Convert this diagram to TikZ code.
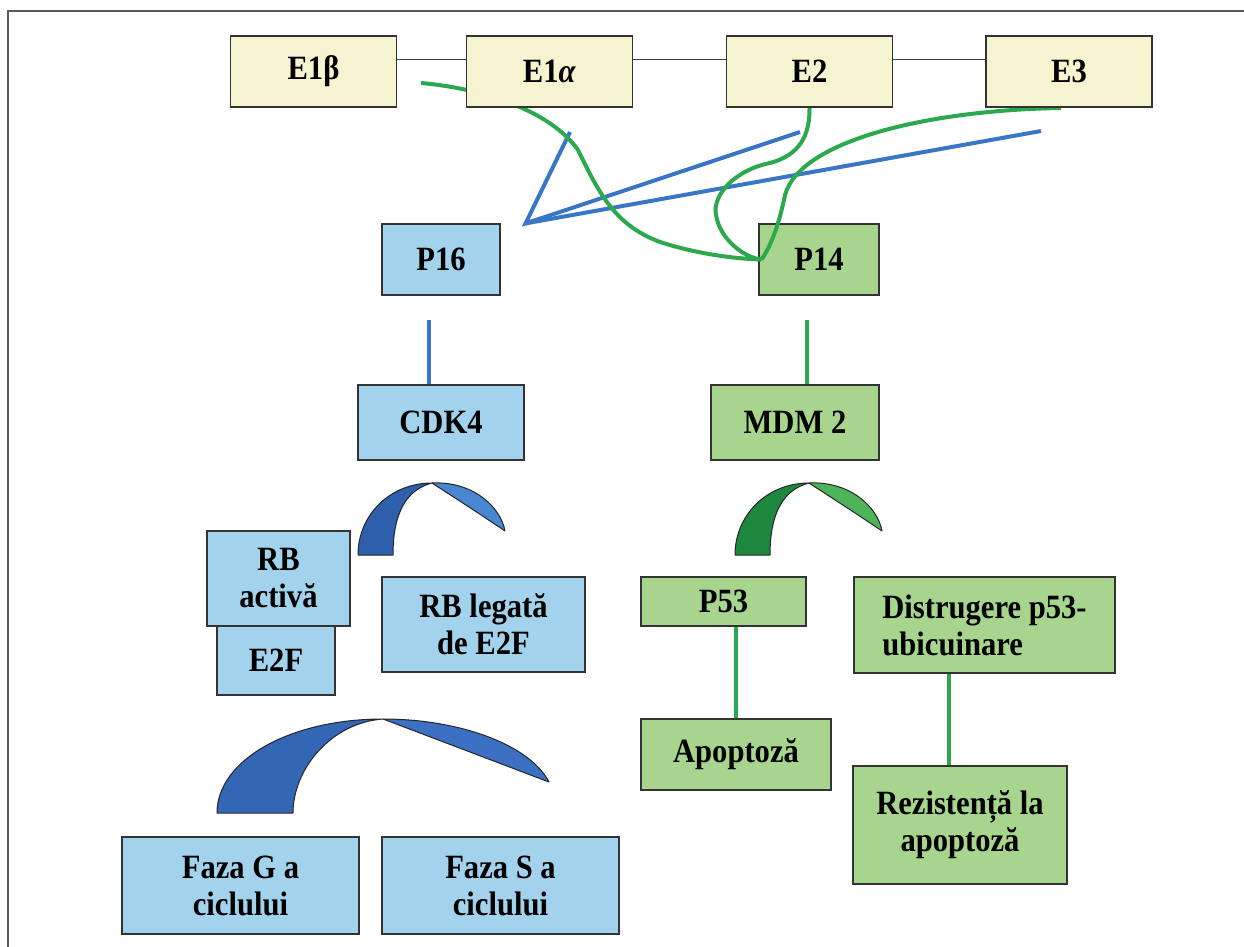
\documentclass[tikz,border=0pt]{standalone}
\usepackage{fontspec}
\setmainfont{Liberation Serif}[FakeStretch=0.9]
\usetikzlibrary{calc}
\pgfdeclarelayer{fg}
\pgfsetlayers{main,fg}

\definecolor{genefill}{RGB}{246,243,208}
\definecolor{bluefill}{RGB}{163,210,236}
\definecolor{greenfill}{RGB}{168,213,142}
\definecolor{framegray}{RGB}{90,90,90}
\definecolor{linkblue}{RGB}{58,118,200}
\definecolor{linkgreen}{RGB}{44,168,78}
\definecolor{arcbluedark}{RGB}{45,95,172}
\definecolor{arcbluelight}{RGB}{72,135,210}
\definecolor{arcgreendark}{RGB}{30,135,62}
\definecolor{arcgreenlight}{RGB}{78,180,90}
\definecolor{bigarcleft}{RGB}{52,102,182}
\definecolor{bigarcright}{RGB}{60,112,194}

\tikzset{
  box/.style={draw=black!80, line width=1.2pt, font=\bfseries\fontsize{34}{37}\selectfont, align=center, inner sep=2pt},
  genebox/.style={box, fill=genefill, minimum width=166pt, minimum height=71pt},
  bluebox/.style={box, fill=bluefill},
  greenbox/.style={box, fill=greenfill},
  geneline/.style={draw=black!75, line width=1pt},
  bluelink/.style={draw=linkblue, line width=4pt},
  greenlink/.style={draw=linkgreen, line width=4pt},
  arcline/.style={draw=black!85, line width=1pt, line join=round}
}

\begin{document}
\begin{tikzpicture}[x=1pt,y=-1pt]
  \useasboundingbox (0,0) rectangle (1244,947);
  \draw[framegray, line width=1.5pt] (8,947) -- (8,11) -- (1244,11);

  % exoni
  \begin{pgfonlayer}{fg}
    \node[genebox] (e1b) at (313.5,71.5) {E1β};
    \node[genebox] (e1a) at (549.5,71.5) {E1\textit{α}};
    \node[genebox] (e2) at (809.5,71.5) {E2};
    \node[genebox] (e3) at (1069,71.5) {E3};
    \draw[geneline] (e1b.8) -- (e1a.172);
    \draw[geneline] (e1a.8) -- (e2.172);
    \draw[geneline] (e2.8) -- (e3.172);
  \end{pgfonlayer}

  % ramura p16
  \node[bluebox, minimum width=118pt, minimum height=71pt] (p16) at (441,259.5) {P16};
  \node[bluebox, minimum width=166pt, minimum height=75pt] (cdk4) at (441,422.5) {CDK4};
  \node[bluebox, minimum width=118pt, minimum height=69pt] (e2f) at (276,660.5) {E2F};
  \node[bluebox, minimum width=143pt, minimum height=95pt] (rbact) at (278.5,578.5) {RB\\activă};
  \node[bluebox, minimum width=203pt, minimum height=95pt] (rbleg) at (483.5,624.5) {RB legată\\de E2F};
  \node[bluebox, minimum width=237pt, minimum height=97pt] (fazag) at (240.5,885.5) {Faza G a\\ciclului};
  \node[bluebox, minimum width=237pt, minimum height=97pt] (fazas) at (500.5,885.5) {Faza S a\\ciclului};

  % ramura p14
  \node[greenbox, minimum width=120pt, minimum height=71pt] (p14) at (819,259.5) {P14};
  \node[greenbox, minimum width=168pt, minimum height=75pt] (mdm2) at (795,422.5) {MDM 2};
  \node[greenbox, minimum width=165pt, minimum height=49pt] (p53) at (723.5,601.5) {P53};
  \node[greenbox, minimum width=261pt, minimum height=96pt, align=left] (distr) at (984.5,625) {Distrugere p53-\\ubicuinare};
  \node[greenbox, minimum width=190pt, minimum height=71pt] (apopt) at (736,754.5) {Apoptoză};
  \node[greenbox, minimum width=214pt, minimum height=118pt] (rezist) at (960,825) {Rezistență la\\apoptoză};

  % arce
  \foreach \dx/\dark/\light in {0/arcbluedark/arcbluelight, 377/arcgreendark/arcgreenlight} {
    \begin{scope}[xshift=\dx]
      \filldraw[fill=\dark, arcline] (358,555) .. controls (358,515) and (390,483) .. (432,483)
        .. controls (405,490) and (393,515) .. (393,555) -- cycle;
      \filldraw[fill=\light, arcline] (432,483) .. controls (474,481) and (501,508) .. (505,531)
        .. controls (480,514) and (455,498) .. (432,483) -- cycle;
    \end{scope}
  }
  \filldraw[fill=bigarcleft, arcline] (217,813) .. controls (217,760) and (290,719) .. (383,719)
    .. controls (330,723) and (293,770) .. (293,813) -- cycle;
  \filldraw[fill=bigarcright, arcline] (383,719) .. controls (460,719) and (530,745) .. (549,782) -- cycle;

  % legaturi
  \coordinate (p16low) at ([xshift=-12pt,yshift=-24pt]p16.south);
  \coordinate (p14low) at ([xshift=-12pt,yshift=-24pt]p14.south);
  \coordinate (rezup) at ([xshift=-11pt]rezist.north);
  \draw[bluelink] (p16low) -- (p16low |- cdk4.north);
  \draw[greenlink] (p14low) -- (p14low |- mdm2.north);
  \draw[greenlink] (p53.south -| apopt.north) -- (apopt.north);
  \draw[greenlink] (rezup |- distr.south) -- (rezup);

  \coordinate (bapex) at ($(p16.north east)+(25,0)$);
  \coordinate (b1) at (570,132);
  \coordinate (b2) at (800,132);
  \coordinate (b3) at (1041,131);
  \coordinate (g1) at (421,83);
  \coordinate (g3) at (1061,108);
  \coordinate (gend) at ($(p14.west)+(3,0)$);
  \draw[bluelink] (b1) -- (bapex) -- (b2);
  \draw[bluelink] (bapex) -- (b3);
  \draw[greenlink] (g1) .. controls (480,88) and (550,110) .. (578,150)
    .. controls (600,195) and (615,225) .. (660,242)
    .. controls (700,255) and (740,259) .. (gend);
  \draw[greenlink] (e2.south) .. controls (810,135) and (800,155) .. (770,163)
    .. controls (735,170) and (712,195) .. (716,215)
    .. controls (720,240) and (745,258) .. (gend);
  \draw[greenlink] (g3) .. controls (930,110) and (800,140) .. (785,195)
    .. controls (780,220) and (772,245) .. (gend);
\end{tikzpicture}
\end{document}
